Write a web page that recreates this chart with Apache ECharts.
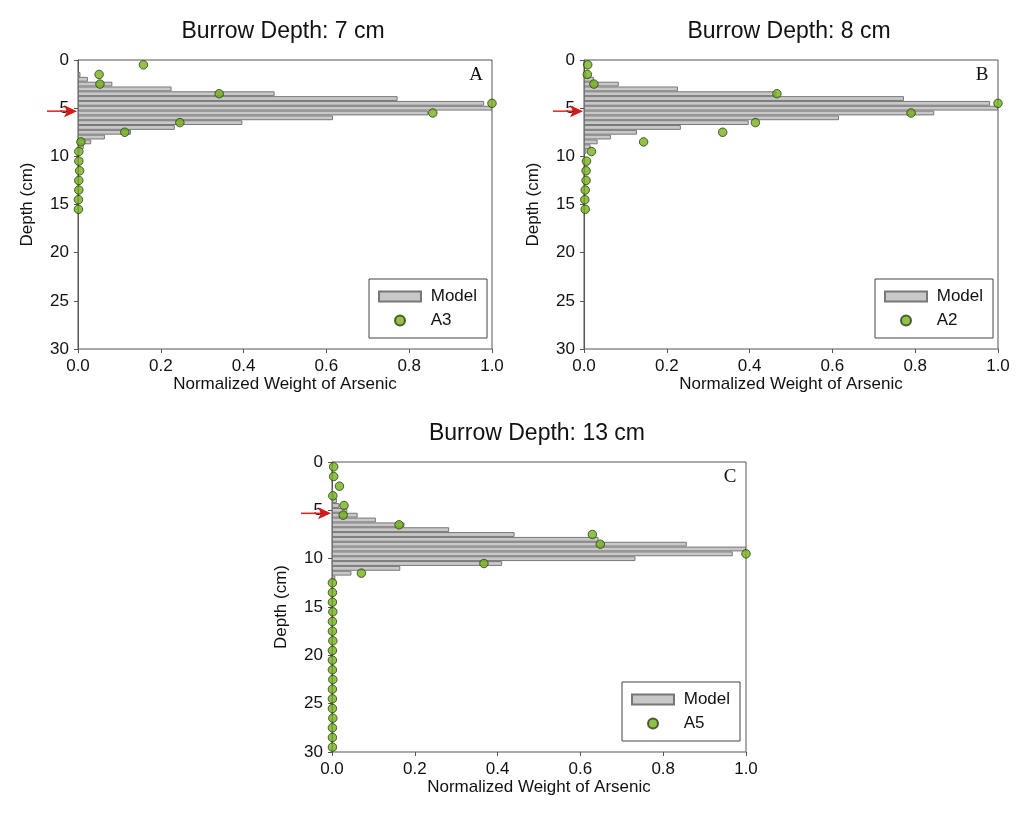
<!DOCTYPE html>
<html>
<head>
<meta charset="utf-8">
<script src="https://cdn.jsdelivr.net/npm/echarts@6/dist/echarts.min.js"></script>
<style>
  html, body { margin: 0; padding: 0; background: #fff; }
  #main { width: 1019px; height: 819px; }
</style>
</head>
<body>
<div id="main"></div>
<script>
// depth axis categories, every 0.5 cm from 0 to 30
var depthCats = [];
for (var i = 0; i <= 60; i++) depthCats.push(String(i / 2));

// model bins (cm) and normalized weights
var modelDepthAB = [1.5, 2, 2.5, 3, 3.5, 4, 4.5, 5, 5.5, 6, 6.5, 7, 7.5, 8, 8.5, 9, 9.5];
var modelA = [0.006, 0.024, 0.083, 0.226, 0.475, 0.772, 0.981, 1.0, 0.846, 0.616, 0.397, 0.234, 0.128, 0.065, 0.032, 0.014, 0.004];
var modelB = [0.006, 0.024, 0.084, 0.227, 0.465, 0.773, 0.981, 1.0, 0.846, 0.616, 0.398, 0.234, 0.128, 0.065, 0.033, 0.016, 0.006];
var modelDepthC = [3, 3.5, 4, 4.5, 5, 5.5, 6, 6.5, 7, 7.5, 8, 8.5, 9, 9.5, 10, 10.5, 11, 11.5, 12];
var modelC = [0.002, 0.004, 0.012, 0.018, 0.037, 0.062, 0.106, 0.175, 0.283, 0.441, 0.644, 0.857, 1.0, 0.968, 0.733, 0.411, 0.165, 0.047, 0.008];

// measured cores
var obsDepthAB = [0.5, 1.5, 2.5, 3.5, 4.5, 5.5, 6.5, 7.5, 8.5, 9.5, 10.5, 11.5, 12.5, 13.5, 14.5, 15.5];
var obsA3 = [0.158, 0.051, 0.053, 0.341, 1.0, 0.857, 0.246, 0.113, 0.007, 0.002, 0.002, 0.004, 0.002, 0.002, 0.001, 0.001];
var obsA2 = [0.009, 0.008, 0.024, 0.466, 1.0, 0.79, 0.414, 0.335, 0.144, 0.018, 0.006, 0.005, 0.005, 0.003, 0.002, 0.003];
var obsDepthC = [0.5, 1.5, 2.5, 3.5, 4.5, 5.5, 6.5, 7.5, 8.5, 9.5, 10.5, 11.5, 12.5, 13.5, 14.5, 15.5,
  16.5, 17.5, 18.5, 19.5, 20.5, 21.5, 22.5, 23.5, 24.5, 25.5, 26.5, 27.5, 28.5, 29.5];
var obsA5 = [0.004, 0.004, 0.018, 0.002, 0.029, 0.027, 0.162, 0.629, 0.648, 1.0, 0.367, 0.071, 0.001, 0.001,
  0.001, 0.002, 0.001, 0.001, 0.002, 0.001, 0.001, 0.001, 0.002, 0.001, 0.001, 0.001, 0.002, 0.001, 0.001, 0.001];

var titles = ['Burrow Depth: 7 cm', 'Burrow Depth: 8 cm', 'Burrow Depth: 13 cm'];
var panelTags = ['A', 'B', 'C'];
var coreNames = ['A3', 'A2', 'A5'];

var FONT = '"Liberation Sans", Arial, sans-serif';
var AXIS_COLOR = '#555';
var FS = 17;

function barData(depths, vals) {
  var arr = depthCats.map(function () { return '-'; });
  depths.forEach(function (d, k) { arr[Math.round(d * 2)] = vals[k]; });
  return arr;
}
function pointData(depths, vals) {
  return depths.map(function (d, k) { return [vals[k], Math.round(d * 2)]; });
}

var grids = [
  {left: 78, top: 60, width: 414, height: 289},
  {left: 584, top: 60, width: 414, height: 289},
  {left: 332, top: 462, width: 414, height: 290}
];
var legendPos = [{left: 369, top: 279}, {left: 875, top: 279}, {left: 622, top: 682}];

var everyTen = function (idx) { return idx % 10 === 0; };

var xAxes = [], yAxes = [], legends = [], series = [];
var models = [[modelDepthAB, modelA], [modelDepthAB, modelB], [modelDepthC, modelC]];
var obs = [[obsDepthAB, obsA3], [obsDepthAB, obsA2], [obsDepthC, obsA5]];

for (var g = 0; g < 3; g++) {
  xAxes.push({
    type: 'value', gridIndex: g, min: 0, max: 1, interval: 0.2,
    name: 'Normalized Weight of Arsenic', nameLocation: 'middle', nameGap: 24,
    nameTextStyle: {fontSize: FS, color: '#111', fontFamily: FONT},
    axisLine: {lineStyle: {color: AXIS_COLOR}},
    axisTick: {show: true, length: 4, lineStyle: {color: AXIS_COLOR}},
    axisLabel: {fontSize: FS, color: '#111', fontFamily: FONT, margin: 9,
      formatter: function (v) { return v.toFixed(1); }},
    splitLine: {show: false}
  });
  yAxes.push({
    type: 'category', gridIndex: g, data: depthCats, inverse: true, boundaryGap: false,
    name: 'Depth (cm)', nameLocation: 'middle', nameGap: 42, nameRotate: 90,
    nameTextStyle: {fontSize: FS, color: '#111', fontFamily: FONT},
    axisLine: {lineStyle: {color: AXIS_COLOR}},
    axisTick: {show: true, length: 4, interval: everyTen, lineStyle: {color: AXIS_COLOR}},
    axisLabel: {fontSize: FS, color: '#111', fontFamily: FONT, margin: 9, interval: everyTen},
    splitLine: {show: false}
  });
  legends.push({
    data: [{name: 'Model', icon: 'rect'}, coreNames[g]], orient: 'vertical',
    left: legendPos[g].left, top: legendPos[g].top,
    itemWidth: 42, itemHeight: 10, itemGap: 7,
    padding: [9, 10, 9, 9], borderColor: '#444', borderWidth: 1,
    formatter: ' {name}',
    textStyle: {fontSize: FS, color: '#111', fontFamily: FONT},
    selectedMode: false
  });
  series.push({
    name: 'Model', type: 'bar', xAxisIndex: g, yAxisIndex: g,
    barCategoryGap: '0%', barGap: '0%',
    itemStyle: {color: '#c8c8c8', borderColor: '#777', borderWidth: 1},
    data: barData(models[g][0], models[g][1]), z: 2
  });
  series.push({
    name: coreNames[g], type: 'scatter', xAxisIndex: g, yAxisIndex: g,
    symbol: 'circle', symbolSize: 8.5, clip: false,
    itemStyle: {color: '#74b21c', borderColor: '#2c3b12', borderWidth: 1},
    data: pointData(obs[g][0], obs[g][1]), z: 3
  });
}

var chart = echarts.init(document.getElementById('main'));
chart.setOption({
  backgroundColor: '#fff',
  animation: false,
  grid: grids.map(function (r) {
    return {left: r.left, top: r.top, width: r.width, height: r.height,
      show: true, borderColor: AXIS_COLOR, borderWidth: 1, backgroundColor: 'transparent'};
  }),
  xAxis: xAxes,
  yAxis: yAxes,
  legend: legends,
  series: series
});

// titles, panel tags and the red arrows at 5 cm
var gfx = [];
for (var g2 = 0; g2 < 3; g2++) {
  var r = grids[g2];
  gfx.push({type: 'text', x: r.left + r.width / 2 - 2, y: r.top - 28,
    style: {text: titles[g2], font: '23px ' + FONT, fill: '#111',
      align: 'center', verticalAlign: 'middle', textAlign: 'center', textVerticalAlign: 'middle'}});
  gfx.push({type: 'text', x: r.left + r.width - 16, y: r.top + 15,
    style: {text: panelTags[g2], font: '19px "Liberation Serif", serif', fill: '#111',
      align: 'center', verticalAlign: 'middle', textAlign: 'center', textVerticalAlign: 'middle'}});
  var ay = chart.convertToPixel({yAxisIndex: g2}, 10) + 3;
  var ax = r.left;
  gfx.push({type: 'line', shape: {x1: ax - 31, y1: ay, x2: ax - 12, y2: ay},
    style: {stroke: '#e0201c', lineWidth: 1.5}, z: 10});
  gfx.push({type: 'polygon', shape: {points: [[ax - 14, ay - 6], [ax - 1, ay], [ax - 14, ay + 6], [ax - 11, ay]]},
    style: {fill: '#d81818'}, z: 10});
}
chart.setOption({graphic: gfx});
</script>
</body>
</html>
